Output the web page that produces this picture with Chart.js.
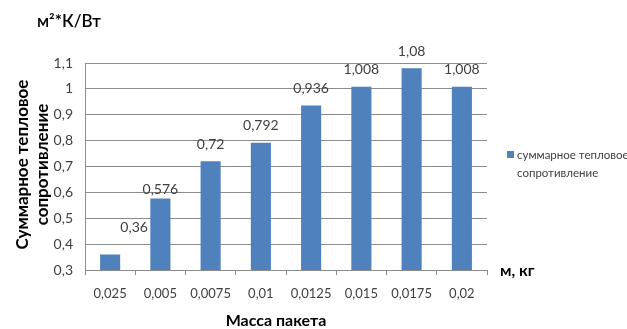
<!DOCTYPE html>
<html>
<head>
<meta charset="utf-8">
<script src="https://cdn.jsdelivr.net/npm/chart.js@4/dist/chart.umd.min.js"></script>
<style>
  html, body { margin: 0; padding: 0; background: #fff; }
  #wrap { width: 627px; height: 329px; position: relative; }
</style>
</head>
<body>
<div id="wrap"><canvas id="c" width="627" height="329"></canvas></div>
<script>
// Packet mass categories (kg) and total thermal resistance (m²·K/W)
const categories = ['0,025', '0,005', '0,0075', '0,01', '0,0125', '0,015', '0,0175', '0,02'];
const resistance = [0.36, 0.576, 0.72, 0.792, 0.936, 1.008, 1.08, 1.008];
const seriesName = 'суммарное тепловое сопротивление';
const legendLines = ['суммарное тепловое', 'сопротивление'];
const yTitleLines = ['Суммарное тепловое', 'сопротивление'];
const yUnit = 'м²*К/Вт';
const xUnit = 'м, кг';
const xTitle = 'Масса пакета';

const BAR = '#4F81BD';
const GRID = '#8C8C8C';
const TEXT = '#404040';
const FONT = 'Lato, "Open Sans", sans-serif';

const fmt = v => String(Math.round(v * 1000) / 1000).replace('.', ',');

// Value labels, axis captions and legend drawn on top of the chart
const annotate = {
  id: 'annotate',
  afterDatasetsDraw(chart) {
    const ctx = chart.ctx;
    const meta = chart.getDatasetMeta(0);
    ctx.save();
    ctx.fillStyle = TEXT;
    ctx.font = '14px ' + FONT;
    ctx.textAlign = 'center';
    ctx.textBaseline = 'middle';
    meta.data.forEach((bar, i) => {
      let x = bar.x, y = bar.y - 17;
      if (i === 0) { x = bar.x + 24; y = bar.y - 27; }   // first label sits beside its short bar
      if (i === 1) { y = bar.y - 9; }
      ctx.fillText(fmt(resistance[i]), x, y);
    });

    // unit captions
    ctx.fillStyle = '#000';
    ctx.textAlign = 'left';
    ctx.font = '600 17px ' + FONT;
    ctx.fillText(yUnit, 37, 22);
    ctx.font = 'bold 16px ' + FONT;
    ctx.fillText(xUnit, 500, 271);

    // x axis title
    ctx.textAlign = 'center';
    ctx.font = 'bold 16px ' + FONT;
    ctx.fillText(xTitle, 276, 321);

    // y axis title (rotated, two lines)
    const area = chart.chartArea;
    const cy = (area.top + area.bottom) / 2 - 2;
    ctx.save();
    ctx.translate(23, cy);
    ctx.rotate(-Math.PI / 2);
    ctx.font = 'bold 17px ' + FONT;
    ctx.fillText(yTitleLines[0], 0, 0);
    ctx.fillText(yTitleLines[1], 0, 20);
    ctx.restore();

    // legend
    ctx.fillStyle = BAR;
    ctx.fillRect(507, 151, 7, 7);
    ctx.fillStyle = TEXT;
    ctx.font = '11.5px ' + FONT;
    ctx.textAlign = 'left';
    ctx.fillText(legendLines[0], 517, 155);
    ctx.fillText(legendLines[1], 517, 173);
    ctx.restore();
  }
};

new Chart(document.getElementById('c'), {
  type: 'bar',
  data: {
    labels: categories,
    datasets: [{
      label: seriesName,
      data: resistance,
      backgroundColor: BAR,
      borderWidth: 0,
      barPercentage: 0.4,
      categoryPercentage: 1.0
    }]
  },
  options: {
    responsive: false,
    animation: false,
    devicePixelRatio: 1,
    layout: { padding: { top: 63, right: 140, left: 0, bottom: 0 } },
    plugins: { legend: { display: false }, tooltip: { enabled: false } },
    scales: {
      x: {
        offset: true,
        grid: { display: true, drawOnChartArea: false, drawTicks: true, tickLength: 5, color: GRID, offset: true },
        border: { display: true, color: GRID, width: 1 },
        ticks: { color: TEXT, font: { family: FONT, size: 13 }, padding: 11, maxRotation: 0 },
        afterFit(scale) { scale.height = 59; }
      },
      y: {
        min: 0.3,
        max: 1.1,
        grid: { color: GRID, drawTicks: false, lineWidth: 1 },
        border: { display: true, color: GRID, width: 1 },
        ticks: {
          stepSize: 0.1,
          color: TEXT,
          font: { family: FONT, size: 14 },
          padding: 12,
          callback: v => fmt(v)
        },
        afterFit(scale) { scale.width = 85; }
      }
    }
  },
  plugins: [annotate]
});
</script>
</body>
</html>
